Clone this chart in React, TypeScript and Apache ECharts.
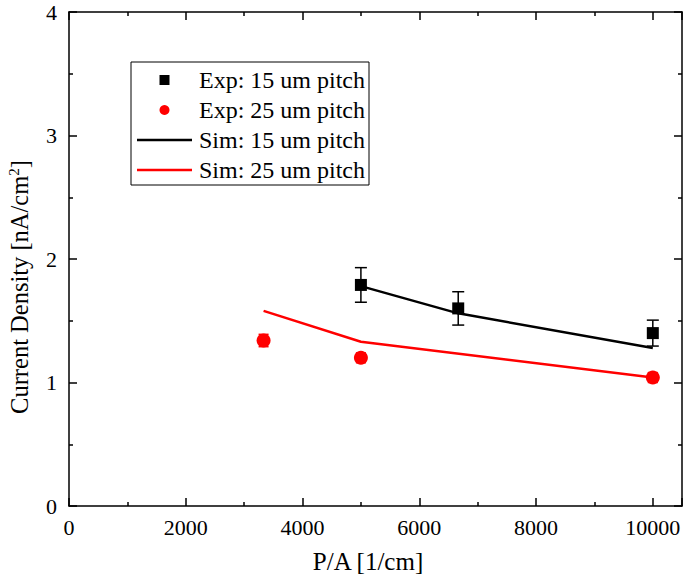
import React, { useEffect, useRef } from "react";
import * as echarts from "echarts";

const xExp15 = [5000, 6667, 10000];
const yExp15 = [1.79, 1.6, 1.4];
const errExp15 = [0.14, 0.135, 0.105];

const xExp25 = [3333, 5000, 10000];
const yExp25 = [1.34, 1.2, 1.04];
const errExp25 = [0.05, 0.04, 0.04];

const xSim15 = [5000, 6667, 10000];
const ySim15 = [1.78, 1.56, 1.28];

const xSim25 = [3333, 5000, 10000];
const ySim25 = [1.58, 1.33, 1.04];

const seriesNames = [
  "Exp: 15 um pitch",
  "Exp: 25 um pitch",
  "Sim: 15 um pitch",
  "Sim: 25 um pitch",
];

const xTitle = "P/A [1/cm]";
const yTitle = "Current Density [nA/cm{sup|2}]";

const FONT = "'Liberation Serif', 'Times New Roman', serif";

function pairs(xs: number[], ys: number[]) {
  return xs.map((x, i) => [x, ys[i]]);
}

function errData(xs: number[], ys: number[], es: number[]) {
  return xs.map((x, i) => [x, ys[i] - es[i], ys[i] + es[i]]);
}

function errRender(color: string, cap: number) {
  return (params: any, api: any) => {
    const x = api.value(0);
    const lo = api.coord([x, api.value(1)]);
    const hi = api.coord([x, api.value(2)]);
    const st = { stroke: color, lineWidth: 1.5 };
    return {
      type: "group",
      children: [
        { type: "line", shape: { x1: lo[0], y1: lo[1], x2: hi[0], y2: hi[1] }, style: st },
        { type: "line", shape: { x1: lo[0] - cap / 2, y1: lo[1], x2: lo[0] + cap / 2, y2: lo[1] }, style: st },
        { type: "line", shape: { x1: hi[0] - cap / 2, y1: hi[1], x2: hi[0] + cap / 2, y2: hi[1] }, style: st },
      ],
    };
  };
}

const LINE_ICON = "path://M0,0h55v2.5h-55z";
const SQUARE_ICON = "path://M0,0h10v10h-10z";

export default function App() {
  const ref = useRef<HTMLDivElement>(null);
  useEffect(() => {
    if (!ref.current) return;
    const chart = echarts.init(ref.current, null, { renderer: "svg" });
    const axisLine = { show: true, onZero: false, lineStyle: { color: "#000", width: 1.5 } };
    const tick = { show: true, inside: true, length: 8, lineStyle: { color: "#000", width: 1.5 } };
    const minorTick = { show: true, splitNumber: 2, length: 4, lineStyle: { color: "#000", width: 1.5 } };
    const label = { color: "#000", fontFamily: FONT, fontSize: 22, formatter: (v: number) => String(v) };
    chart.setOption({
      animation: false,
      backgroundColor: "#fff",
      grid: { left: 69, top: 12, right: 3, bottom: 68, outerBoundsMode: "none", containLabel: false },
      graphic: [
        {
          type: "text",
          x: 19,
          y: 287,
          rotation: Math.PI / 2,
          style: {
            text: yTitle,
            fontFamily: FONT,
            fontSize: 24.5,
            fill: "#000",
            align: "center",
            verticalAlign: "middle",
            rich: { sup: { fontFamily: FONT, fontSize: 15, fill: "#000", verticalAlign: "top", padding: [0, 0, 10, 0] } },
          },
        },
        {
          type: "text",
          x: 368,
          y: 561,
          style: {
            text: xTitle,
            fontFamily: FONT,
            fontSize: 25,
            fill: "#000",
            align: "center",
            verticalAlign: "middle",
          },
        },
      ],
      legend: {
        orient: "vertical",
        left: 131,
        top: 62,
        borderColor: "#000",
        borderWidth: 1,
        borderRadius: 0,
        padding: [6, 4, 3, 6],
        itemGap: 6,
        itemWidth: 55,
        itemHeight: 10,
        symbolKeepAspect: true,
        textStyle: { fontFamily: FONT, fontSize: 24, color: "#000", padding: [0, 0, 0, 2] },
        data: [
          { name: seriesNames[0], icon: SQUARE_ICON, itemStyle: { color: "#000", opacity: 1 } },
          { name: seriesNames[1], icon: "circle", itemStyle: { color: "#ff0000", opacity: 1 } },
          { name: seriesNames[2], icon: LINE_ICON, itemStyle: { color: "#000", opacity: 1 } },
          { name: seriesNames[3], icon: LINE_ICON, itemStyle: { color: "#ff0000", opacity: 1 } },
        ],
      },
      xAxis: [
        {
          type: "value",
          min: 0,
          max: 10500,
          interval: 2000,
          position: "bottom",
          axisLine,
          axisTick: tick,
          minorTick,
          axisLabel: { ...label, margin: 10, showMaxLabel: false },
          splitLine: { show: false },
        },
        {
          type: "value",
          min: 0,
          max: 10500,
          interval: 2000,
          position: "top",
          axisLine,
          axisTick: tick,
          minorTick,
          axisLabel: { show: false },
          splitLine: { show: false },
        },
      ],
      yAxis: [
        {
          type: "value",
          min: 0,
          max: 4,
          interval: 1,
          position: "left",
          axisLine,
          axisTick: tick,
          minorTick,
          axisLabel: { ...label, margin: 12 },
          splitLine: { show: false },
        },
        {
          type: "value",
          min: 0,
          max: 4,
          interval: 1,
          position: "right",
          axisLine,
          axisTick: tick,
          minorTick,
          axisLabel: { show: false },
          splitLine: { show: false },
        },
      ],
      series: [
        {
          name: seriesNames[2],
          type: "line",
          data: pairs(xSim15, ySim15),
          symbol: "none",
          lineStyle: { color: "#000", width: 2.5 },
          itemStyle: { color: "#000" },
          z: 2,
        },
        {
          name: seriesNames[3],
          type: "line",
          data: pairs(xSim25, ySim25),
          symbol: "none",
          lineStyle: { color: "#ff0000", width: 2.5 },
          itemStyle: { color: "#ff0000" },
          z: 2,
        },
        {
          name: "err15",
          type: "custom",
          data: errData(xExp15, yExp15, errExp15),
          renderItem: errRender("#000", 12),
          encode: { x: 0, y: [1, 2] },
          z: 3,
        },
        {
          name: "err25",
          type: "custom",
          data: errData(xExp25, yExp25, errExp25),
          renderItem: errRender("#ff0000", 10),
          encode: { x: 0, y: [1, 2] },
          z: 3,
        },
        {
          name: seriesNames[0],
          type: "scatter",
          data: pairs(xExp15, yExp15),
          symbol: "rect",
          symbolSize: 12,
          itemStyle: { color: "#000", opacity: 1 },
          z: 4,
        },
        {
          name: seriesNames[1],
          type: "scatter",
          data: pairs(xExp25, yExp25),
          symbol: "circle",
          symbolSize: 14,
          itemStyle: { color: "#ff0000", opacity: 1 },
          z: 4,
        },
      ],
    });
    return () => chart.dispose();
  }, []);
  return <div ref={ref} style={{ width: 685, height: 574, position: "absolute", left: 0, top: 0 }} />;
}
